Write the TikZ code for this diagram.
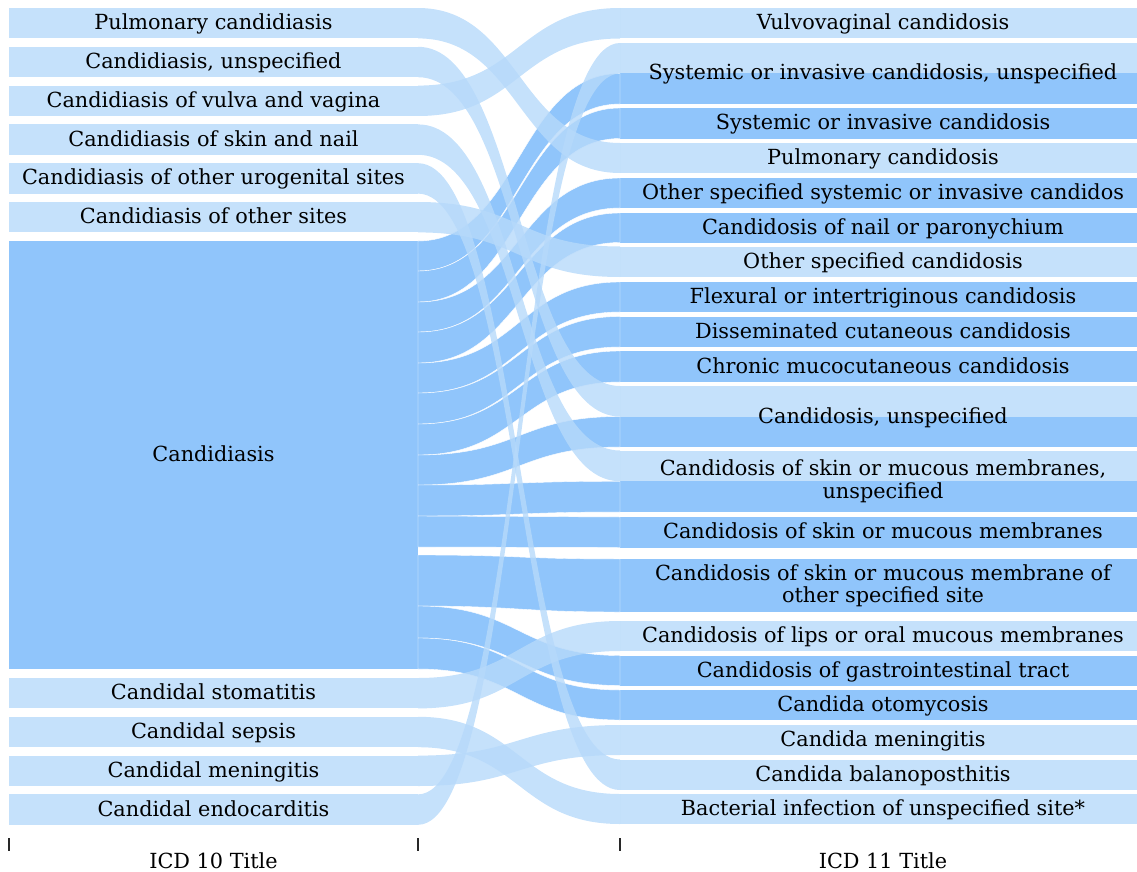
\documentclass[tikz,border=0pt]{standalone}
\usepackage{fontspec}
\setmainfont{DejaVu Serif}
\usetikzlibrary{calc}
\definecolor{lightnode}{RGB}{197,225,251}
\definecolor{darknode}{RGB}{144,197,251}
\definecolor{lightlink}{RGB}{182,217,250}
\definecolor{tickcol}{RGB}{40,40,40}
\newcommand\sankeyband[5]{%
  \path[#1] let \p1=#2, \p2=#3, \p3=#4, \p4=#5, \p5=($(\p1)!0.5!(\p3)$) in
    (\p1) .. controls (\x5,\y1) and (\x5,\y3) .. (\p3) -- (\p4)
    .. controls (\x5,\y4) and (\x5,\y2) .. (\p2) -- cycle;}
\newcommand\cy[1]{($(cand.north east)+(0,#1)$)}
\newcommand\leftnode[5]{%
  \pgfmathsetmacro\hh{#3-#2}\pgfmathsetmacro\yy{(#2+#3)/2}%
  \node[#5, minimum width=409pt, minimum height=\hh pt] (#1) at (213.5,\yy) {#4};}
\newcommand\rightnode[5]{%
  \pgfmathsetmacro\hh{#3-#2}\pgfmathsetmacro\yy{(#2+#3)/2}%
  \node[#5, minimum width=526pt, minimum height=\hh pt] (#1) at (883,\yy) {#4};}
\begin{document}
\begin{tikzpicture}[x=1pt,y=-1pt,
  base/.style={rectangle, inner sep=0pt, outer sep=0pt, font=\fontsize{20.8}{22.3}\selectfont},
  oneline/.style={base, text height=17.9pt, text depth=4.9pt},
  light/.style={oneline, fill=lightnode},
  dark/.style={oneline, fill=darknode},
  split/.style={fill=lightnode, path picture={\fill[darknode] (path picture bounding box.west) rectangle (path picture bounding box.south east);}},
  splitone/.style={oneline, split},
  splittwo/.style={base, align=center, split},
  darktwo/.style={base, align=center, fill=darknode},
  darklink/.style={fill=darknode, draw=white, line width=0.4pt},
  lightlink/.style={fill=lightlink, fill opacity=0.8},
  tick/.style={draw=tickcol, line width=1.5pt},
  axislabel/.style={oneline}
]
\useasboundingbox (0,0) rectangle (1137,872);
\clip (0,0) rectangle (1137,872);

% left nodes
\leftnode{l1}{8}{38.4}{Pulmonary candidiasis}{light}
\leftnode{l2}{46.8}{77.2}{Candidiasis, unspecified}{light}
\leftnode{l3}{85.6}{116}{Candidiasis of vulva and vagina}{light}
\leftnode{l4}{124.4}{154.8}{Candidiasis of skin and nail}{light}
\leftnode{l5}{163.2}{193.6}{Candidiasis of other urogenital sites}{light}
\leftnode{l6}{202}{232.4}{Candidiasis of other sites}{light}
\leftnode{cand}{241}{669}{Candidiasis}{dark}
\leftnode{l7}{678}{708.4}{Candidal stomatitis}{light}
\leftnode{l8}{716.8}{747.2}{Candidal sepsis}{light}
\leftnode{l9}{755.6}{786}{Candidal meningitis}{light}
\leftnode{l10}{794.4}{824.8}{Candidal endocarditis}{light}

% right nodes
\rightnode{r1}{8}{38.5}{Vulvovaginal candidosis}{light}
\rightnode{r2}{43}{104}{Systemic or invasive candidosis, unspecified}{splitone}
\rightnode{r3}{108}{138.5}{Systemic or invasive candidosis}{dark}
\rightnode{r4}{143}{173}{Pulmonary candidosis}{light}
\rightnode{r5}{178}{208}{Other specified systemic or invasive candidos}{dark}
\rightnode{r6}{213}{242.5}{Candidosis of nail or paronychium}{dark}
\rightnode{r7}{246.5}{277}{Other specified candidosis}{light}
\rightnode{r8}{282}{312}{Flexural or intertriginous candidosis}{dark}
\rightnode{r9}{316.5}{347}{Disseminated cutaneous candidosis}{dark}
\rightnode{r10}{351}{382}{Chronic mucocutaneous candidosis}{dark}
\rightnode{r11}{386}{447}{Candidosis, unspecified}{splitone}
\rightnode{r12}{450.5}{512}{Candidosis of skin or mucous membranes,\\unspecified}{splittwo}
\rightnode{r13}{517}{547.5}{Candidosis of skin or mucous membranes}{dark}
\rightnode{r14}{559}{612}{Candidosis of skin or mucous membrane of\\other specified site}{darktwo}
\rightnode{r15}{621}{651}{Candidosis of lips or oral mucous membranes}{light}
\rightnode{r16}{655.5}{685.5}{Candidosis of gastrointestinal tract}{dark}
\rightnode{r17}{690}{720}{Candida otomycosis}{dark}
\rightnode{r18}{725}{755}{Candida meningitis}{light}
\rightnode{r19}{759.5}{790}{Candida balanoposthitis}{light}
\rightnode{r20}{794}{824}{Bacterial infection of unspecified site*}{light}

% dark flows from Candidiasis
\sankeyband{darklink}{\cy{0}}{\cy{30}}{(r2.west)}{(r2.south west)}
\sankeyband{darklink}{\cy{30}}{\cy{61}}{(r3.north west)}{(r3.south west)}
\sankeyband{darklink}{\cy{61}}{\cy{91}}{(r5.north west)}{(r5.south west)}
\sankeyband{darklink}{\cy{91}}{\cy{122}}{(r6.north west)}{(r6.south west)}
\sankeyband{darklink}{\cy{122}}{\cy{152}}{(r8.north west)}{(r8.south west)}
\sankeyband{darklink}{\cy{152}}{\cy{183}}{(r9.north west)}{(r9.south west)}
\sankeyband{darklink}{\cy{183}}{\cy{214}}{(r10.north west)}{(r10.south west)}
\sankeyband{darklink}{\cy{214}}{\cy{244}}{(r11.west)}{(r11.south west)}
\sankeyband{darklink}{\cy{244}}{\cy{275}}{(r12.west)}{(r12.south west)}
\sankeyband{darklink}{\cy{275}}{\cy{306}}{(r13.north west)}{(r13.south west)}
\sankeyband{darklink}{\cy{314}}{\cy{365}}{(r14.north west)}{(r14.south west)}
\sankeyband{darklink}{\cy{365}}{\cy{397}}{(r16.north west)}{(r16.south west)}
\sankeyband{darklink}{\cy{397}}{\cy{428}}{(r17.north west)}{(r17.south west)}

% light flows
\sankeyband{lightlink}{(l1.north east)}{(l1.south east)}{(r4.north west)}{(r4.south west)}
\sankeyband{lightlink}{(l2.north east)}{(l2.south east)}{(r11.north west)}{(r11.west)}
\sankeyband{lightlink}{(l3.north east)}{(l3.south east)}{(r1.north west)}{(r1.south west)}
\sankeyband{lightlink}{(l4.north east)}{(l4.south east)}{(r12.north west)}{(r12.west)}
\sankeyband{lightlink}{(l5.north east)}{(l5.south east)}{(r19.north west)}{(r19.south west)}
\sankeyband{lightlink}{(l6.north east)}{(l6.south east)}{(r7.north west)}{(r7.south west)}
\sankeyband{lightlink}{(l7.north east)}{(l7.south east)}{(r15.north west)}{(r15.south west)}
\sankeyband{lightlink}{(l8.north east)}{(l8.south east)}{(r20.north west)}{(r20.south west)}
\sankeyband{lightlink}{(l9.north east)}{(l9.south east)}{(r18.north west)}{(r18.south west)}
\sankeyband{lightlink}{(l10.north east)}{(l10.south east)}{(r2.north west)}{(r2.west)}

% axis ticks and titles
\coordinate (t1) at (9,838);
\coordinate (t2) at (418,838);
\coordinate (t3) at (620,838);
\draw[tick] (t1) -- ++(0,13);
\draw[tick] (t2) -- ++(0,13);
\draw[tick] (t3) -- ++(0,13);
\node[axislabel] (ax10) at (213.5,862) {ICD 10 Title};
\node[axislabel] (ax11) at (883,862) {ICD 11 Title};
\end{tikzpicture}
\end{document}
